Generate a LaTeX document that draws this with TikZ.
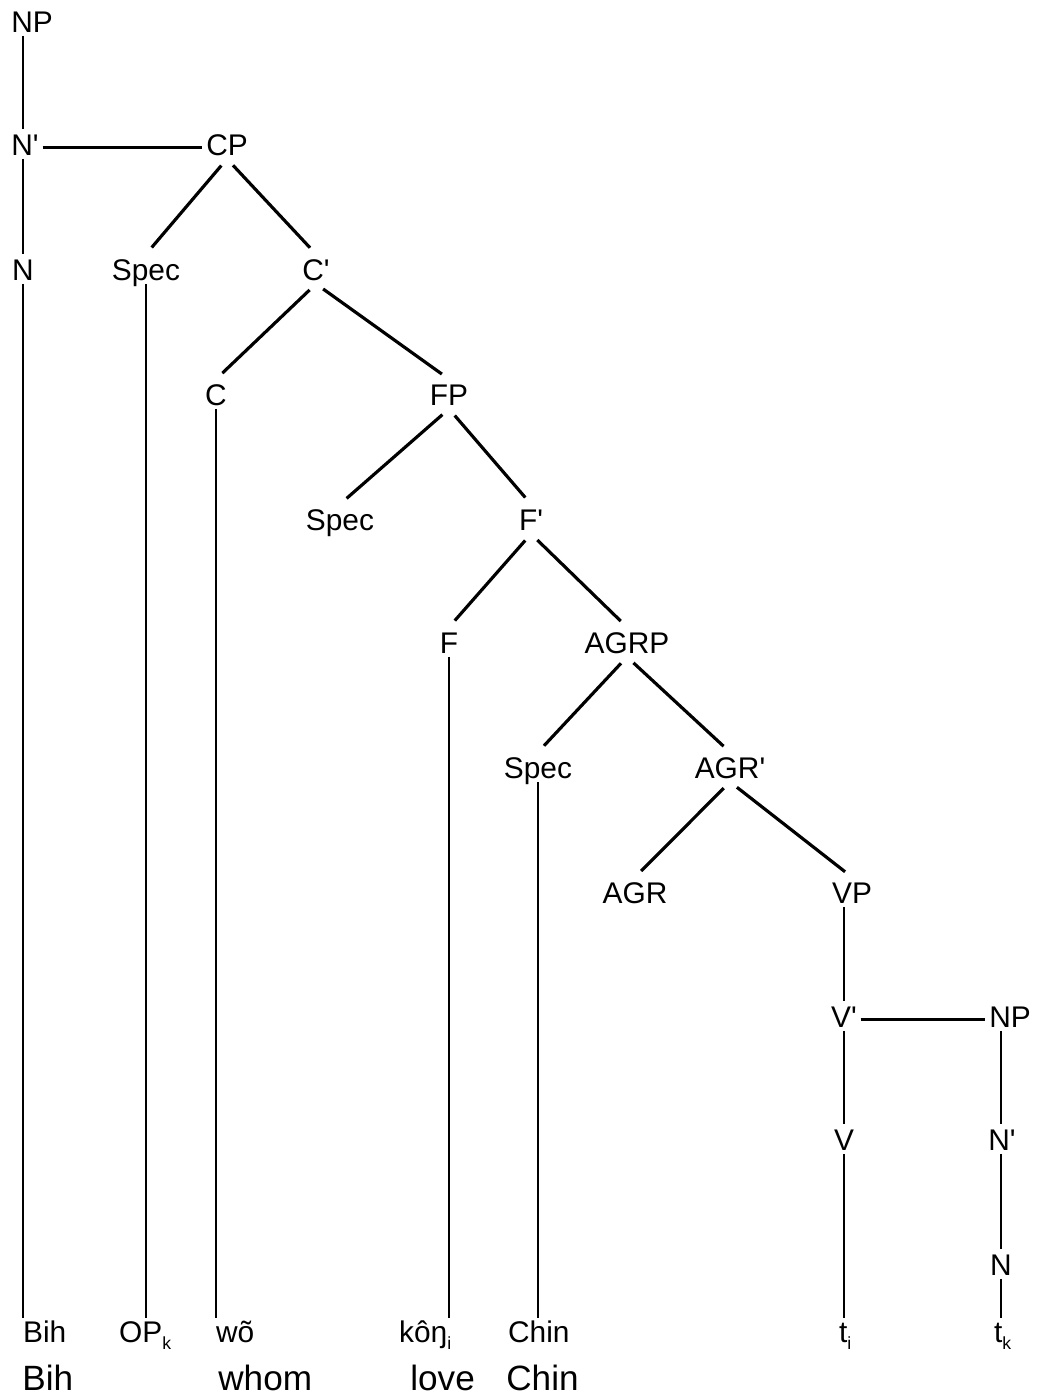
\documentclass[tikz,border=0pt]{standalone}
\usepackage{fontspec}
\setmainfont{Liberation Sans}
\usepackage{tikz}

\tikzset{
  cat/.style={font=\fontsize{17}{20}\selectfont, inner sep=2pt, text height=12.5pt, text depth=0pt, anchor=base},
  word/.style={font=\fontsize{17}{20}\selectfont, inner sep=1pt, text height=12.5pt, text depth=0pt, anchor=base west},
  gloss/.style={font=\fontsize{20}{24}\selectfont, inner sep=0pt, anchor=base west},
  branch/.style={line width=1.8pt, shorten <=5pt, shorten >=5pt},
  edge/.style={line width=1.5pt},
}
\newcommand{\idx}[1]{\raisebox{-4.5pt}{\fontsize{10}{10}\selectfont #1}}
\newcommand{\pr}{\textquotesingle}

\begin{document}
\begin{tikzpicture}[x=0.02cm, y=-0.02cm]

  \useasboundingbox (0,0) rectangle (1037,1396);

  % Define nodes
  \node[cat] (np)   at (32,32)    {NP};
  \node[cat] (nb)   at (25,155)   {N\pr};
  \node[cat] (cp)   at (227,155)  {CP};
  \node[cat] (n)    at (23,280)   {N};
  \node[cat] (spa)  at (146,280)  {Spec};
  \node[cat] (cb)   at (316,280)  {C\pr};
  \node[cat] (c)    at (216,405)  {C};
  \node[cat] (fp)   at (449,405)  {FP};
  \node[cat] (spb)  at (340,530)  {Spec};
  \node[cat] (fb)   at (531,530)  {F\pr};
  \node[cat] (f)    at (449,653)  {F};
  \node[cat] (agrp) at (627,653)  {AGRP};
  \node[cat] (spc)  at (538,778)  {Spec};
  \node[cat] (agrb) at (730,778)  {AGR\pr};
  \node[cat] (agr)  at (635,903)  {AGR};
  \node[cat] (vp)   at (852,903)  {VP};
  \node[cat] (vb)   at (844,1027) {V\pr};
  \node[cat] (npb)  at (1010,1027) {NP};
  \node[cat] (v)    at (844,1150) {V};
  \node[cat] (nbb)  at (1002,1150) {N\pr};
  \node[cat] (nn)   at (1001,1275) {N};

  % Words and glosses
  \node[word] (bih)  at (21,1342)  {Bih};
  \node[word] (op)   at (117,1342) {OP\idx{k}};
  \node[word] (wo)   at (214,1342) {wõ};
  \node[word] (kong) at (397,1342) {kôŋ\idx{i}};
  \node[word] (chin) at (506,1342) {Chin};
  \node[word] (ti)   at (837,1342) {t\idx{i}};
  \node[word] (tk)   at (992,1342) {t\idx{k}};
  \node[gloss] (gbih)  at (22,1390)  {Bih};
  \node[gloss] (gwho)  at (218,1390) {whom};
  \node[gloss] (glove) at (410,1390) {love};
  \node[gloss] (gchin) at (506,1390) {Chin};

  % Edges
  \draw[edge] (np.south -| n.south) -- (nb.north -| n.south);
  \draw[edge] ([yshift=-2pt]nb.east) -- ([yshift=-2pt]cp.west);
  \draw[edge] (nb.south -| n.south) -- (n.north);
  \draw[edge] (n.south) -- (n.south |- bih.north);
  \draw[branch] (cp.south) -- (spa.north);
  \draw[branch] (cp.south) -- (cb.north);
  \draw[edge] (spa.south) -- (spa.south |- op.north);
  \draw[branch] (cb.south) -- (c.north);
  \draw[branch] (cb.south) -- (fp.north);
  \draw[edge] (c.south) -- (c.south |- wo.north);
  \draw[branch] (fp.south) -- (spb.north);
  \draw[branch] (fp.south) -- (fb.north);
  \draw[branch] (fb.south) -- (f.north);
  \draw[branch] (fb.south) -- (agrp.north);
  \draw[edge] (f.south) -- (f.south |- kong.north);
  \draw[branch] (agrp.south) -- (spc.north);
  \draw[branch] (agrp.south) -- (agrb.north);
  \draw[edge] (spc.south) -- (spc.south |- chin.north);
  \draw[branch] (agrb.south) -- (agr.north);
  \draw[branch] (agrb.south) -- (vp.north);
  \draw[edge] (vp.south -| vb.south) -- (vb.north);
  \draw[edge] ([yshift=-2pt]vb.east) -- ([yshift=-2pt]npb.west);
  \draw[edge] (vb.south) -- (v.north);
  \draw[edge] (v.south) -- (v.south |- ti.north);
  \draw[edge] (npb.south -| nn.south) -- (nbb.north -| nn.south);
  \draw[edge] (nbb.south -| nn.south) -- (nn.north);
  \draw[edge] (nn.south) -- (nn.south |- tk.north);

\end{tikzpicture}
\end{document}
